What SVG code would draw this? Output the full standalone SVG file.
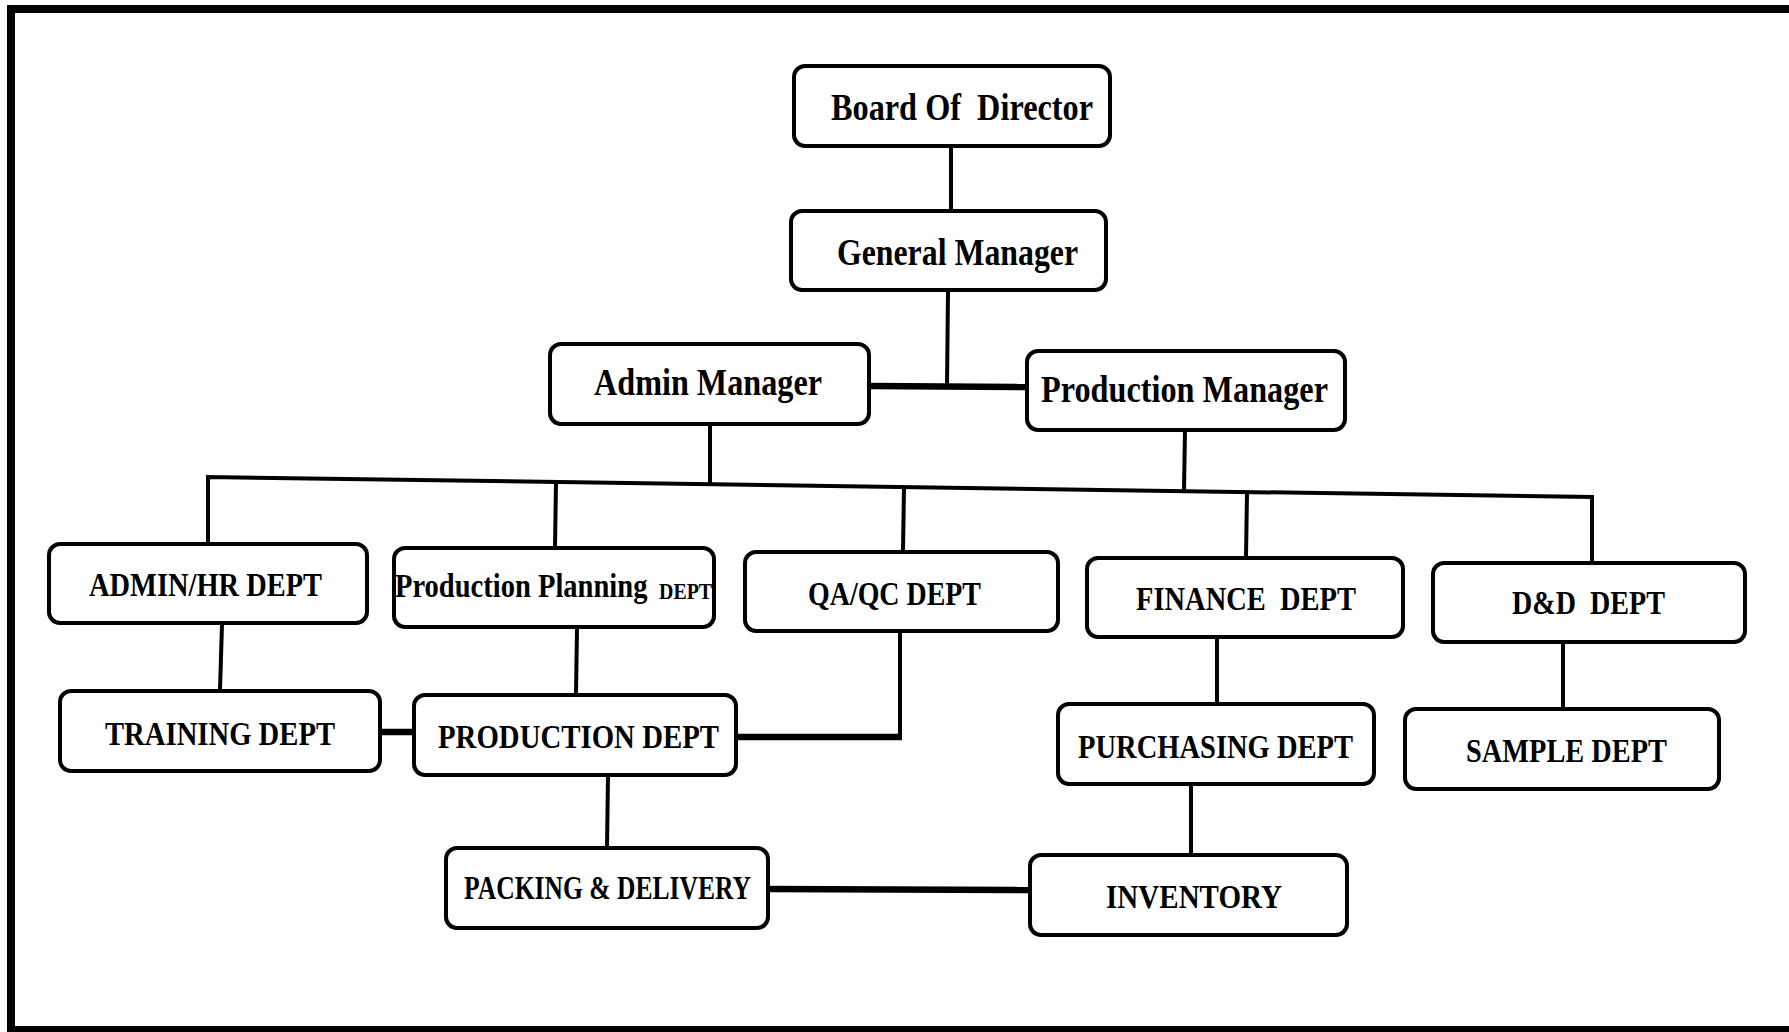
<svg xmlns="http://www.w3.org/2000/svg" width="1789" height="1032" viewBox="0 0 1789 1032">
<style>
.box{fill:#fff;stroke:#000;stroke-width:4}
.t{font-family:"Liberation Serif","Times New Roman",serif;font-weight:bold;fill:#000}
.big{font-size:38px}
.sm{font-size:33px}
.c{stroke:#000;stroke-width:4;fill:none;stroke-linecap:square}
.ck{stroke:#000;stroke-width:6.5;fill:none}
</style>
<rect x="0" y="0" width="1789" height="1032" fill="#fff"/>
<g id="frame">
<path d="M11 1032 L11 9 L1789 9" fill="none" stroke="#000" stroke-width="8"/>
<line x1="7" y1="1029" x2="1789" y2="1029" stroke="#000" stroke-width="6"/>
</g>
<g id="connectors">
<line class="c" x1="951" y1="147" x2="951" y2="210"/>
<line class="c" x1="948" y1="291" x2="947" y2="386"/>
<line class="ck" x1="869" y1="386" x2="1027" y2="387"/>
<line class="c" x1="710" y1="424" x2="710" y2="481"/>
<line class="c" x1="1185" y1="430" x2="1184" y2="490"/>
<path class="c" stroke-width="5" d="M208 543 L208 477 L1592 497 L1592 562"/>
<line class="c" x1="556" y1="483" x2="555" y2="547"/>
<line class="c" x1="904" y1="488" x2="903" y2="551"/>
<line class="c" x1="1247" y1="493" x2="1246" y2="557"/>
<line class="c" x1="222" y1="624" x2="220" y2="690"/>
<line class="ck" x1="380" y1="732" x2="414" y2="732"/>
<line class="c" x1="577" y1="628" x2="576" y2="694"/>
<path class="c" d="M900 633 L900 737"/>
<line class="ck" x1="736" y1="737" x2="902" y2="737"/>
<line class="c" x1="608" y1="776" x2="607" y2="848"/>
<line class="ck" x1="768" y1="889" x2="1030" y2="890"/>
<line class="c" x1="1217" y1="638" x2="1217" y2="704"/>
<line class="c" x1="1191" y1="784" x2="1191" y2="855"/>
<line class="c" x1="1563" y1="642" x2="1563" y2="709"/>
</g>
<g id="n-board"><rect class="box" x="794" y="66" width="316" height="80" rx="11"/><text class="t big" x="831" y="120" textLength="262" lengthAdjust="spacingAndGlyphs" xml:space="preserve">Board Of  Director</text></g>
<g id="n-gm"><rect class="box" x="791" y="211" width="315" height="79" rx="11"/><text class="t big" x="837" y="265" textLength="241" lengthAdjust="spacingAndGlyphs">General Manager</text></g>
<g id="n-admin"><rect class="box" x="550" y="344" width="319" height="80" rx="11"/><text class="t big" x="594" y="395" textLength="228" lengthAdjust="spacingAndGlyphs">Admin Manager</text></g>
<g id="n-prodmgr"><rect class="box" x="1027" y="351" width="318" height="79" rx="11"/><text class="t big" x="1041" y="402" textLength="287" lengthAdjust="spacingAndGlyphs">Production Manager</text></g>
<g id="n-adminhr"><rect class="box" x="49" y="544" width="318" height="79" rx="11"/><text class="t sm" x="89" y="596" textLength="233" lengthAdjust="spacingAndGlyphs">ADMIN/HR DEPT</text></g>
<g id="n-pp"><rect class="box" x="394" y="548" width="320" height="79" rx="11"/><text class="t sm" transform="translate(395 597) scale(0.865 1)" x="0" y="0">Production Planning</text><text class="t" font-size="24" transform="translate(659 599) scale(0.83 1)" x="0" y="0">DEPT</text></g>
<g id="n-qaqc"><rect class="box" x="745" y="552" width="313" height="79" rx="11"/><text class="t sm" x="808" y="605" textLength="173" lengthAdjust="spacingAndGlyphs">QA/QC DEPT</text></g>
<g id="n-finance"><rect class="box" x="1087" y="558" width="316" height="79" rx="11"/><text class="t sm" x="1136" y="610" textLength="220" lengthAdjust="spacingAndGlyphs" xml:space="preserve">FINANCE  DEPT</text></g>
<g id="n-dd"><rect class="box" x="1433" y="563" width="312" height="79" rx="11"/><text class="t sm" x="1512" y="614" textLength="153" lengthAdjust="spacingAndGlyphs" xml:space="preserve">D&amp;D  DEPT</text></g>
<g id="n-training"><rect class="box" x="60" y="691" width="320" height="80" rx="11"/><text class="t sm" x="105" y="745" textLength="230" lengthAdjust="spacingAndGlyphs">TRAINING DEPT</text></g>
<g id="n-production"><rect class="box" x="414" y="695" width="322" height="80" rx="11"/><text class="t sm" x="438" y="748" textLength="281" lengthAdjust="spacingAndGlyphs">PRODUCTION DEPT</text></g>
<g id="n-purchasing"><rect class="box" x="1058" y="704" width="316" height="80" rx="11"/><text class="t sm" x="1078" y="758" textLength="275" lengthAdjust="spacingAndGlyphs">PURCHASING DEPT</text></g>
<g id="n-sample"><rect class="box" x="1405" y="709" width="314" height="80" rx="11"/><text class="t sm" x="1466" y="762" textLength="201" lengthAdjust="spacingAndGlyphs">SAMPLE DEPT</text></g>
<g id="n-packing"><rect class="box" x="446" y="848" width="322" height="80" rx="11"/><text class="t sm" x="464" y="899" textLength="287" lengthAdjust="spacingAndGlyphs">PACKING &amp; DELIVERY</text></g>
<g id="n-inventory"><rect class="box" x="1030" y="855" width="317" height="80" rx="11"/><text class="t sm" x="1106" y="908" textLength="176" lengthAdjust="spacingAndGlyphs">INVENTORY</text></g>
</svg>
